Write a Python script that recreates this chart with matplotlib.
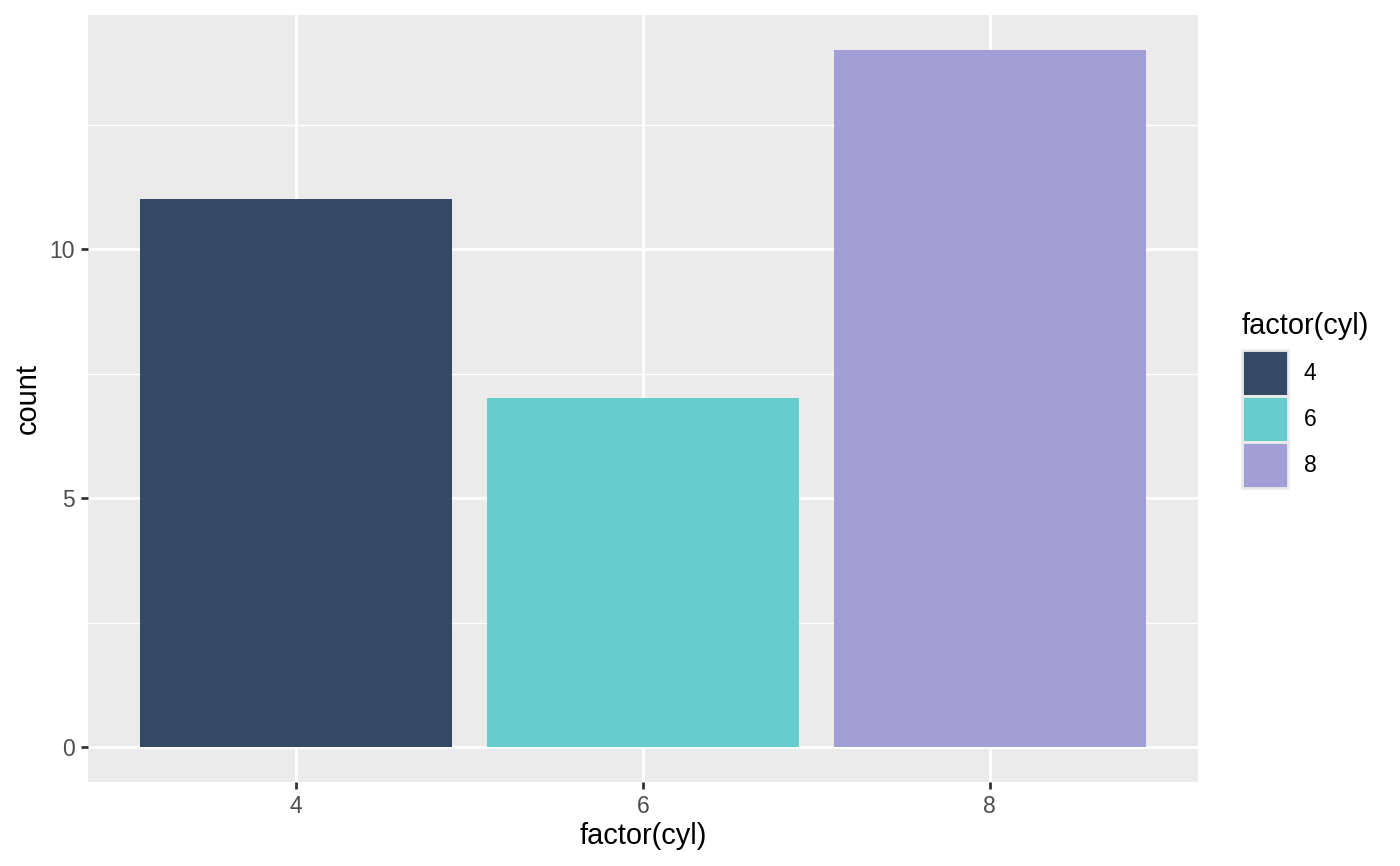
import matplotlib.pyplot as plt
from matplotlib.patches import Patch

cyl_levels = ['4', '6', '8']
counts = [11, 7, 14]
fill_colors = ['#344A64', '#67CDCC', '#A29ED6']

plt.rcParams['font.family'] = ['Liberation Sans', 'DejaVu Sans']

W, H = 1400, 866
fig = plt.figure(figsize=(W / 100, H / 100), dpi=100)
ax = fig.add_axes([88 / W, (H - 782) / H, 1110 / W, 767 / H])
ax.set_facecolor('#EBEBEB')

x = range(1, len(cyl_levels) + 1)
ax.bar(x, counts, width=0.9, color=fill_colors, zorder=3)

ax.set_xlim(0.4, 3.6)
ax.set_ylim(-0.7, 14.7)
ax.set_xticks(list(x))
ax.set_xticklabels(cyl_levels)
ax.set_yticks([0, 5, 10])
ax.set_yticks([2.5, 7.5, 12.5], minor=True)

ax.grid(which='major', color='white', linewidth=2.0, zorder=1)
ax.grid(which='minor', axis='y', color='white', linewidth=1.0, zorder=1)
ax.set_axisbelow(True)
for s in ax.spines.values():
    s.set_visible(False)
ax.tick_params(which='major', length=5.2, width=2.0, color='#333333',
               labelcolor='#4D4D4D', labelsize=16.5, pad=4)
ax.tick_params(which='minor', length=0)

ax.set_xlabel('factor(cyl)', fontsize=20.9, color='black', labelpad=3)
ax.set_ylabel('count', fontsize=20.9, color='black', labelpad=6)

# legend title placed separately so there is a gap above the keys
fig.text(1242 / W, 1 - 312 / H, 'factor(cyl)', fontsize=20.9,
         ha='left', va='top')
handles = [Patch(facecolor=c, edgecolor='#EBEBEB', linewidth=2) for c in fill_colors]
leg = fig.legend(handles, cyl_levels,
                 loc='upper left', bbox_to_anchor=(1242 / W, 1 - 350 / H),
                 frameon=False, fontsize=16.5,
                 handlelength=2.0, handleheight=2.72, labelspacing=0.0,
                 handletextpad=0.7, borderaxespad=0, borderpad=0)

fig.savefig('out.png', dpi=100)
